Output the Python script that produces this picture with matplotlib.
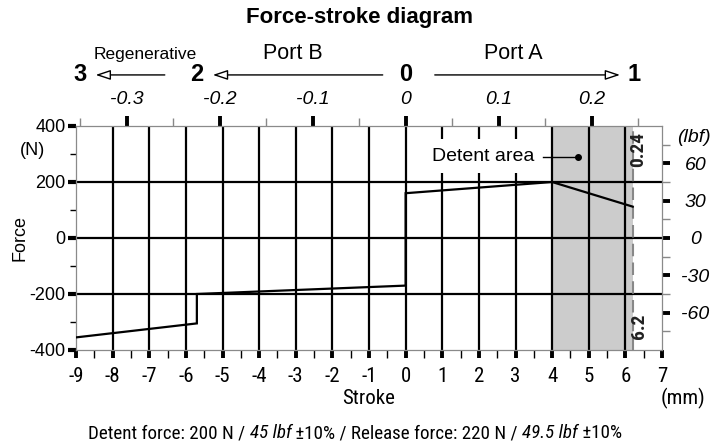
import numpy as np
import matplotlib
matplotlib.use("Agg")
import matplotlib.pyplot as plt
from matplotlib import font_manager
from matplotlib.patches import FancyArrowPatch
import matplotlib.transforms as mtransforms

plt.rcParams['axes.unicode_minus'] = False
names = {f.name for f in font_manager.fontManager.ttflist}
SANS = 'Liberation Sans'
NARROW = SANS
for cand in ['Liberation Sans Narrow', 'DejaVu Sans Condensed', 'Roboto Condensed']:
    if cand in names:
        NARROW = cand
        break
plt.rcParams['font.family'] = SANS

# force-stroke curve (mm, N)
stroke = [-9, -5.7, -5.7, 0, 0, 4, 6.2]
force = [-355, -305, -200, -170, 160, 200, 112]

detent_start = 4
detent_end = 6.2
x_ticks = np.arange(-9, 8, 1)
y_ticks = [-400, -200, 0, 200, 400]
inch_ticks = [-0.3, -0.2, -0.1, 0, 0.1, 0.2]
lbf_ticks = [-60, -30, 0, 30, 60]
N_PER_LBF = 4.44822

fig = plt.figure(figsize=(7.18, 4.45), dpi=100)
ax = fig.add_axes([76 / 718, 1 - 350 / 445, 586 / 718, 224 / 445])
ax.set_xlim(-9, 7)
ax.set_ylim(-400, 400)

# detent zone
ax.axvspan(detent_start, detent_end, color='#cccccc', lw=0, zorder=0.2)
ax.axvline(detent_end, color='#888888', lw=1.5, ls=(0, (6, 3)), zorder=1)

# grid
for gx in range(-8, 7):
    ax.axvline(gx, color='black', lw=1.6, zorder=0.5)
for gy in [-200, 0, 200]:
    ax.axhline(gy, color='black', lw=1.6, zorder=0.5)

ax.plot(stroke, force, color='black', lw=1.6, zorder=3, solid_joinstyle='miter')

for s in ax.spines.values():
    s.set_color('#8a8a8a')
    s.set_linewidth(0.9)

# bottom axis
ax.set_xticks(x_ticks)
ax.set_xticks(np.arange(-8.5, 7, 1), minor=True)
ax.set_xticklabels([str(v) for v in x_ticks], family=NARROW, fontsize=15)
ax.tick_params(axis='x', which='major', direction='out', length=6, width=2.8,
               color='black', pad=6)
ax.tick_params(axis='x', which='minor', direction='out', length=6, width=1.0,
               color='black')

# left axis
ax.set_yticks(y_ticks)
ax.set_yticks([-300, -100, 100, 300], minor=True)
ax.set_yticklabels([str(v) for v in y_ticks], fontsize=13)
ax.tick_params(axis='y', which='major', direction='out', length=6, width=3.0,
               color='black', pad=1.5)
ax.tick_params(axis='y', which='minor', direction='out', length=4, width=1.0,
               color='black')

ax.text(-0.075, 0.89, '(N)', transform=ax.transAxes, fontsize=13,
        ha='center', va='center')
ax.text(-0.095, 0.5, 'Force', transform=ax.transAxes, fontsize=13,
        rotation=90, ha='center', va='center')
ax.text(0.5, -0.215, 'Stroke', transform=ax.transAxes, family=NARROW,
        fontsize=15, ha='center', va='center')
ax.text(1.035, -0.215, '(mm)', transform=ax.transAxes, family=NARROW,
        fontsize=15, ha='center', va='center')

# top axis in inches
top = ax.secondary_xaxis('top', functions=(lambda v: v / 25.4, lambda v: v * 25.4))
top.set_xticks(inch_ticks)
top.set_xticks([-0.35, -0.25, -0.15, -0.05, 0.05, 0.15, 0.25], minor=True)
top.set_xticklabels([f'{v:g}' for v in inch_ticks], fontsize=14, style='italic')
top.tick_params(which='major', direction='out', length=7, width=2.8,
                color='black', pad=6)
top.tick_params(which='minor', direction='out', length=6, width=1.0,
                color='#888888')
top.spines['top'].set_visible(False)

# right axis in lbf
right = ax.secondary_yaxis('right', functions=(lambda v: v / N_PER_LBF,
                                               lambda v: v * N_PER_LBF))
right.set_yticks(lbf_ticks)
right.set_yticks([-75, -45, -15, 15, 45, 75], minor=True)
right.set_yticklabels([str(v) for v in lbf_ticks], fontsize=14, style='italic')
for t in right.get_yticklabels():
    t.set_horizontalalignment('center')
right.tick_params(which='major', direction='out', length=6, width=2.8,
                  color='black', pad=18)
right.tick_params(which='minor', direction='out', length=6, width=1.0,
                  color='#888888')
right.spines['right'].set_visible(False)
ax.text(1.055, 0.948, '(lbf)', transform=ax.transAxes, fontsize=14,
        style='italic', ha='center', va='center')

# value markers next to the stroke end
ax.text(6.36, 316, '0.24', rotation=90, family=NARROW, fontsize=14,
        fontweight='bold', ha='center', va='center', color='#222222')
ax.text(6.36, -316, '6.2', rotation=90, family=NARROW, fontsize=14,
        fontweight='bold', ha='center', va='center', color='#222222')

# detent annotation
ax.text(2.11, 292, 'Detent area', fontsize=14, ha='center', va='center',
        zorder=4, bbox=dict(facecolor='white', edgecolor='none', pad=6))
ax.plot([3.75, 4.7], [290, 290], color='black', lw=1.0, zorder=4)
ax.plot([4.7], [290], 'o', color='black', ms=4, zorder=5)

# port / direction labels above the chart
bt = mtransforms.blended_transform_factory(ax.transData, ax.transAxes)
arrow_y = 1.228
for pos, lab in [(-8.9, '3'), (-5.7, '2'), (0, '0'), (6.25, '1')]:
    ax.text(pos, arrow_y, lab, transform=bt, fontsize=17, fontweight='bold',
            ha='center', va='center', clip_on=False)
for x0, x1 in [(-6.5, -8.54), (-0.55, -5.34), (0.72, 5.93)]:
    arr = FancyArrowPatch((x0, arrow_y), (x1, arrow_y), transform=bt,
                          arrowstyle='-|>,head_length=9,head_width=3',
                          mutation_scale=1, lw=1.0, edgecolor='black',
                          facecolor='white', clip_on=False)
    ax.add_patch(arr)
ax.text(-7.1, 1.32, 'Regenerative', transform=bt, fontsize=12.5,
        ha='center', va='center', clip_on=False)
ax.text(-3.07, 1.325, 'Port B', transform=bt, fontsize=15.5,
        ha='center', va='center', clip_on=False)
ax.text(2.93, 1.325, 'Port A', transform=bt, fontsize=15.5,
        ha='center', va='center', clip_on=False)

fig.text(0.5, 1 - 18 / 445, 'Force-stroke diagram', fontsize=16,
         fontweight='bold', ha='center', va='center')

# footer with italic imperial values
parts = [('Detent force: 200 N / ', 'normal'), ('45 lbf', 'italic'),
         (' \u00b110% / Release force: 220 N / ', 'normal'),
         ('49.5 lbf', 'italic'), (' \u00b110%', 'normal')]
prev = fig.text(88 / 718, 1 - 442 / 445, parts[0][0], family=NARROW,
                fontsize=13.7, style=parts[0][1], ha='left', va='bottom')
for txt, st in parts[1:]:
    prev = ax.annotate(txt, xy=(1, 0), xycoords=prev, family=NARROW,
                       fontsize=13.7, style=st, ha='left', va='bottom',
                       annotation_clip=False)

fig.savefig('out.png', dpi=100)
